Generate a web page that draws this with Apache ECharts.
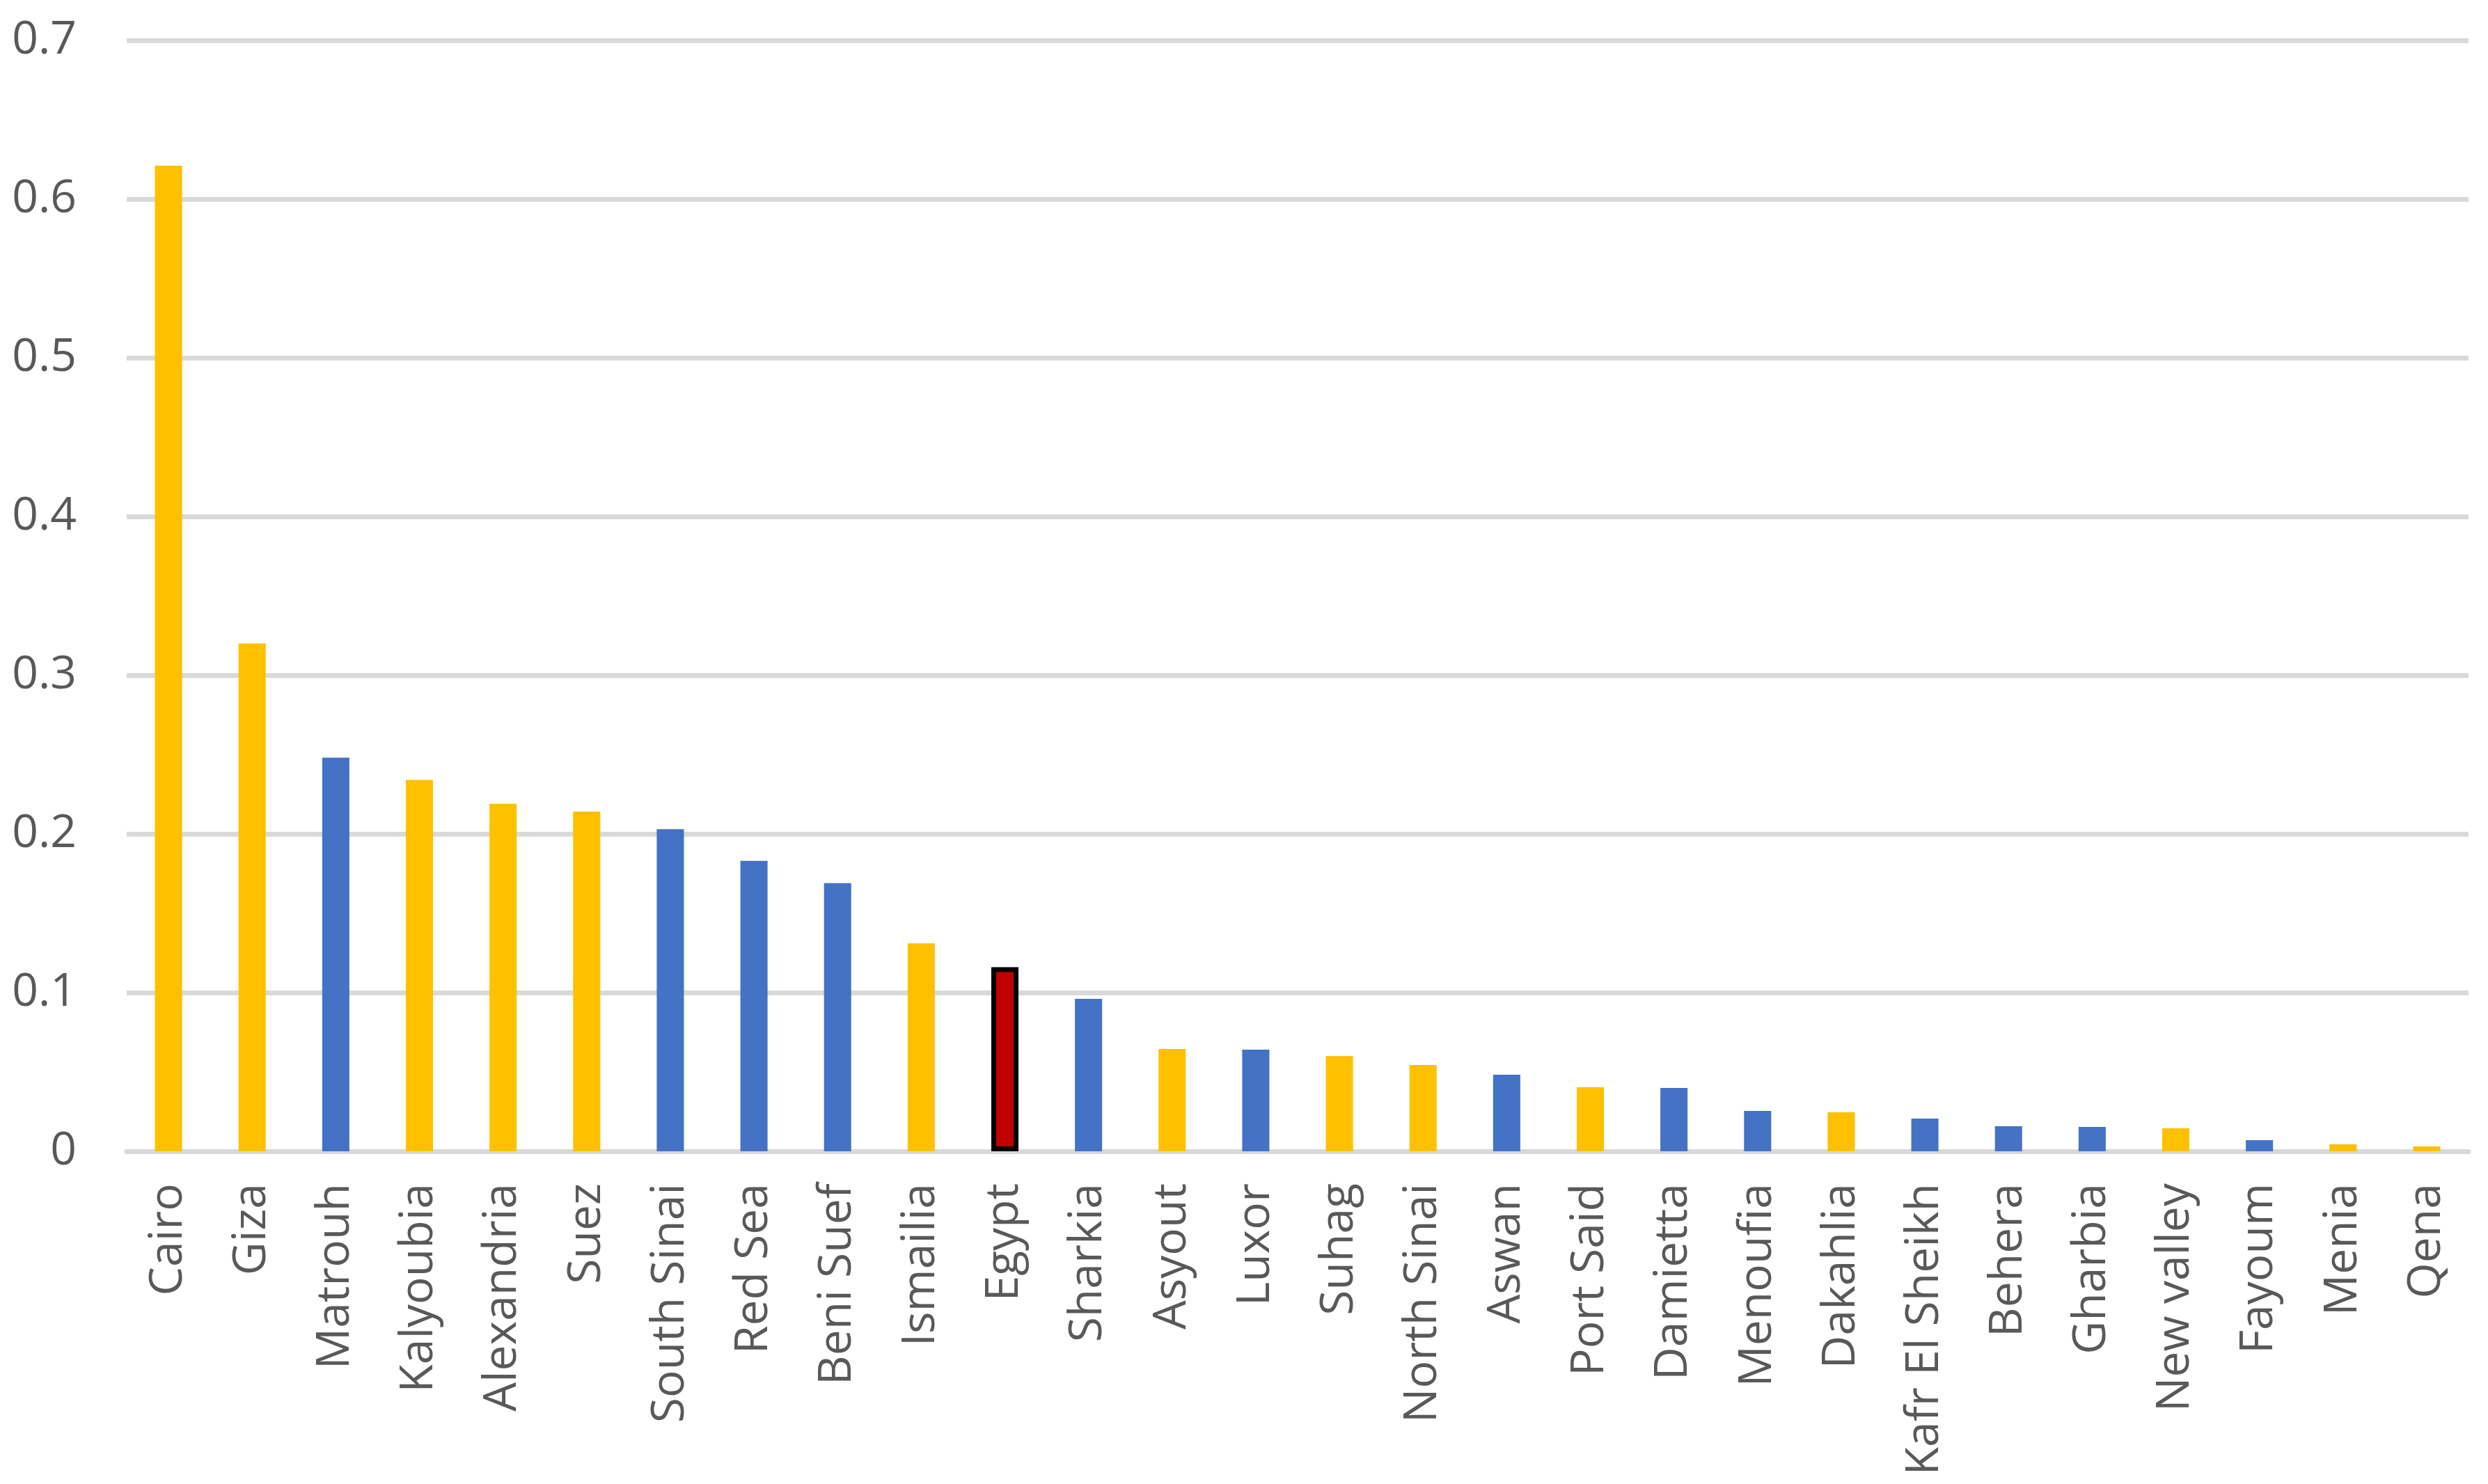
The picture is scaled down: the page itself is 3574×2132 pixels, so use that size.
<!DOCTYPE html>
<html>
<head>
<meta charset="utf-8">
<script src="https://cdn.jsdelivr.net/npm/echarts@6/dist/echarts.min.js"></script>
<style>
  html, body { margin: 0; padding: 0; background: #ffffff; }
  #chart { width: 3574px; height: 2132px; }
</style>
</head>
<body>
<div id="chart"></div>
<script>
// ---- data ----
const categories = ["Cairo", "Giza", "Matrouh", "Kalyoubia", "Alexandria", "Suez", "South Sinai", "Red Sea", "Beni Suef", "Ismailia", "Egypt", "Sharkia", "Asyout", "Luxor", "Suhag", "North Sinai", "Aswan", "Port Said", "Damietta", "Menoufia", "Dakahlia", "Kafr El Sheikh", "Behera", "Gharbia", "New valley", "Fayoum", "Menia", "Qena"];
const values = [0.621, 0.320, 0.248, 0.234, 0.219, 0.214, 0.203, 0.183, 0.169, 0.131, 0.116, 0.096, 0.0645, 0.064, 0.060, 0.0544, 0.0482, 0.0404, 0.0399, 0.0254, 0.0246, 0.0206, 0.0158, 0.0154, 0.0145, 0.0070, 0.0044, 0.0031];
// group of each governorate: "A" (yellow), "B" (blue), "national" (Egypt total)
const groups = ["A", "A", "B", "A", "A", "A", "B", "B", "B", "A", "national", "B", "A", "B", "A", "A", "B", "A", "B", "B", "A", "B", "B", "B", "A", "B", "A", "A"];
const yTicks = [0, 0.1, 0.2, 0.3, 0.4, 0.5, 0.6, 0.7];

// ---- styles ----
const groupStyle = {
  A: { color: "#FFC000" },
  B: { color: "#4472C4" },
  national: { color: "#C00000", borderColor: "#000000", borderWidth: 7 }
};
const textColor = "#595959";
const gridColor = "#D9D9D9";
const fontFamily = "'Open Sans', 'Noto Sans', sans-serif";

const seriesData = values.map((v, i) => ({
  value: v,
  itemStyle: groupStyle[groups[i]]
}));

const chart = echarts.init(document.getElementById("chart"), null, { renderer: "canvas" });
chart.setOption({
  backgroundColor: "#ffffff",
  animation: false,
  grid: { left: 182, right: 28, top: 58, bottom: 478, containLabel: false },
  xAxis: {
    type: "category",
    data: categories,
    axisTick: { show: false },
    axisLine: { show: true, lineStyle: { color: gridColor, width: 7 } },
    axisLabel: {
      rotate: 90,
      margin: 46,
      color: textColor,
      fontSize: 66,
      fontFamily: fontFamily,
      interval: 0
    }
  },
  yAxis: {
    type: "value",
    min: yTicks[0],
    max: yTicks[yTicks.length - 1],
    interval: 0.1,
    axisLine: { show: false },
    axisTick: { show: false },
    splitLine: { show: true, lineStyle: { color: gridColor, width: 7 } },
    axisLabel: {
      margin: 72,
      color: textColor,
      fontSize: 66,
      fontFamily: fontFamily,
      formatter: (v) => String(Math.round(v * 10) / 10)
    }
  },
  series: [{
    type: "bar",
    data: seriesData,
    barWidth: "32.5%",
    z: 1
  }]
});
</script>
</body>
</html>
